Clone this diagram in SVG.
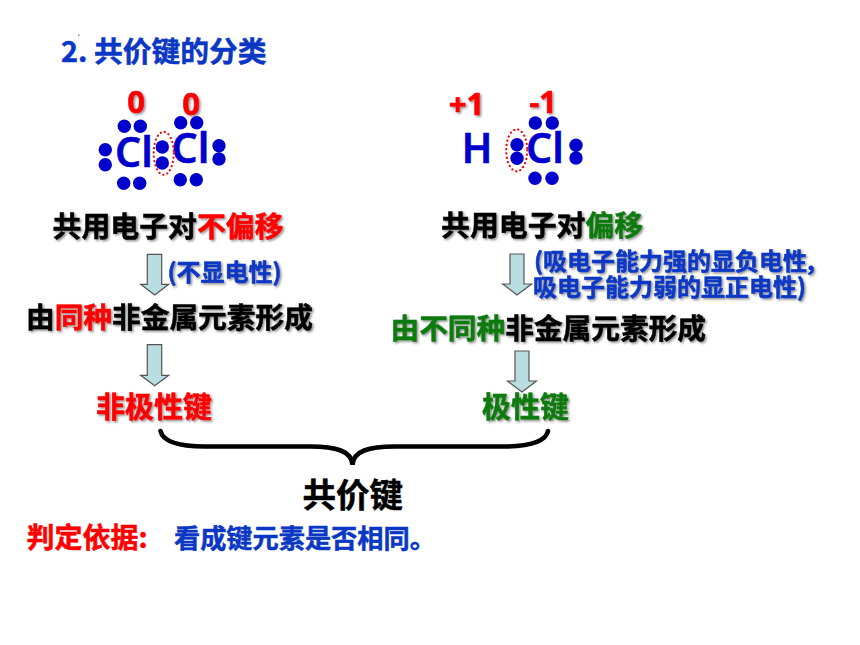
<svg xmlns="http://www.w3.org/2000/svg" width="860" height="645" viewBox="0 0 860 645">
<style>
text{font-family:"Noto Sans CJK SC","Noto Sans",sans-serif;font-weight:700;stroke-width:.5px}
.s{filter:url(#sh)}
.k{fill:#000;stroke:#000;font-size:28.900px}
.k2{font-size:28.700px}
.r{fill:#f00;stroke:#f00}.g{fill:#0f7a0f;stroke:#0f7a0f}
.b{fill:#0a37c4;stroke:#0a37c4}
.m{font-family:"Noto Sans","Liberation Sans",sans-serif;fill:#0000cc;stroke:#0000cc;font-size:41px;font-weight:600}
.o{font-family:"Noto Sans","Liberation Sans",sans-serif;fill:#f00;stroke:#f00;font-size:31px}
.d{fill:#0000cc}
.e{fill:none;stroke:#f00;stroke-width:2.2;stroke-dasharray:.1 4.2;stroke-linecap:round}
.a{fill:#b9dde0;stroke:#555;stroke-width:1.2}
.br{fill:none;stroke:#000;stroke-width:4.6;stroke-linecap:round}
</style>
<defs>
<filter id="sh" x="-10%" y="-20%" width="120%" height="150%"><feDropShadow dx="1.5" dy="1.5" stdDeviation="1" flood-color="#000" flood-opacity=".45"/></filter>
<circle id="p" r="6.7"/>
</defs>
<rect width="860" height="645" fill="#fff"/>
<rect x="78" y="34.500" width="1.500" height="1.500" fill="#888"/>
<g id="title"><text x="61" y="62" class="b" font-size="28.800">2. 共价键的分类</text></g>

<g id="cl2">
<text class="o s" x="136" y="113" text-anchor="middle">0</text>
<text class="o s" x="191" y="115" text-anchor="middle">0</text>
<text class="m" x="115" y="167">Cl</text>
<text class="m" x="171.500" y="163">Cl</text>
<g class="d">
<use href="#p" x="124.300" y="126.300"/><use href="#p" x="140.300" y="126.300"/>
<use href="#p" x="123.700" y="183.300"/><use href="#p" x="139.700" y="183.300"/>
<use href="#p" x="105.300" y="149.700"/><use href="#p" x="105.300" y="164.700"/>
<use href="#p" x="162.300" y="147"/><use href="#p" x="162.300" y="163"/>
<use href="#p" x="180.700" y="122.700"/><use href="#p" x="196.700" y="122.700"/>
<use href="#p" x="180.300" y="179.700"/><use href="#p" x="196.300" y="179.700"/>
<use href="#p" x="219" y="145.700"/><use href="#p" x="219" y="159"/>
</g>
<ellipse class="e" cx="163.700" cy="153.300" rx="10" ry="21.500"/>
</g>

<g id="hcl">
<text class="o s" x="466.500" y="115" text-anchor="middle">+1</text>
<text class="o s" x="543" y="113" text-anchor="middle">-1</text>
<text class="m" x="461.500" y="163">H</text>
<text class="m" x="526" y="163">Cl</text>
<g class="d">
<use href="#p" x="535.300" y="123"/><use href="#p" x="552.300" y="123"/>
<use href="#p" x="535" y="178.300"/><use href="#p" x="552" y="178.300"/>
<use href="#p" x="517" y="144.700"/><use href="#p" x="517" y="158.300"/>
<use href="#p" x="576" y="145.300"/><use href="#p" x="576" y="158"/>
</g>
<ellipse class="e" cx="516.700" cy="150.300" rx="10.500" ry="21"/>
</g>

<g id="n1"><text class="k s" x="52.500" y="237">共用电子对<tspan class="r">不偏移</tspan></text></g>
<g id="n2"><text class="k s" x="441" y="236">共用电子对<tspan class="g">偏移</tspan></text></g>
<g id="n3"><text class="b s" x="167.500" y="281" font-size="24">(不显电性)</text></g>
<g id="n4"><text class="b s" x="534" y="270" font-size="24">(吸电子能力强的显负电性,</text><text class="b s" x="533" y="296" font-size="24">吸电子能力弱的显正电性)</text></g>
<g id="n5"><text class="k k2 s" x="26" y="328">由<tspan class="r">同种</tspan>非金属元素形成</text></g>
<g id="n6"><text class="k k2 s" x="390.500" y="339"><tspan class="g">由不同种</tspan>非金属元素形成</text></g>
<g id="n7"><text class="r s" x="96" y="418" font-size="29">非极性键</text></g>
<g id="n8"><text class="g s" x="482" y="418" font-size="29">极性键</text></g>
<g id="n9"><text x="302.500" y="507" font-size="33.500" fill="#000" stroke="#000">共价键</text></g>
<g id="n10"><text class="r" x="26.500" y="548" font-size="28">判定依据:</text><text class="b" x="174" y="548" font-size="26.200">看成键元素是否相同。</text></g>

<g id="connectors">
<path class="a" d="M147.300 254.300H161.700V284.300H168.700L154.700 295L140.700 284.300H147.300Z"/>
<path class="a" d="M147.300 344.700H161.700V375.300H168.700L154.700 385.700L140.700 375.300H147.300Z"/>
<path class="a" d="M510 254H524V284H531.700L517 295L502.700 284H510Z"/>
<path class="a" d="M515 351H529V381H536.500L522 392L507.500 381H515Z"/>
<path class="br" d="M160.500 431C163 442 180 446.500 205 446.500H310C336 446.500 352 451 352.500 465C353 451 369 446.500 395 446.500H503C528 446.500 545.500 442 548 431"/>
</g>
</svg>
